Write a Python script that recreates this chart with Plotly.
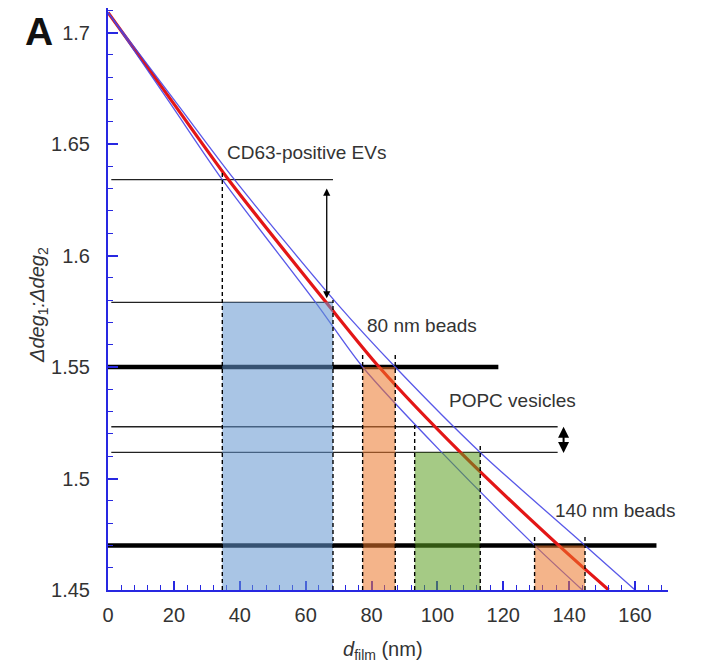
import plotly.graph_objects as go

# Ratio levels (y) shared by the calibration curve and its uncertainty band
ratio_levels = [1.709, 1.668, 1.634, 1.579, 1.550, 1.5117, 1.470, 1.450]
# Film thickness (nm) at each ratio level: best fit and lower/upper bounds
d_fit = [0.0, 20.0, 36.6, 66.2, 82.3, 107.0, 136.8, 152.0]
d_lower = [0.0, 19.0, 34.7, 63.0, 77.3, 101.3, 129.5, 144.0]
d_upper = [0.0, 21.0, 38.4, 69.2, 87.2, 113.0, 144.8, 160.0]

# Measured samples: ratio interval, thickness interval, label
samples = ["CD63-positive EVs", "80 nm beads", "POPC vesicles", "140 nm beads"]
ratio_lo = [1.579, 1.550, 1.5117, 1.470]
ratio_hi = [1.634, 1.550, 1.5232, 1.470]
d_lo = [34.7, 77.3, 93.1, 129.5]
d_hi = [68.3, 87.2, 113.0, 144.8]
fill_colors = ["rgba(99,150,208,0.55)", "rgba(235,119,42,0.55)",
               "rgba(91,159,33,0.55)", "rgba(235,119,42,0.55)"]

# Reference (bead) ratio lines and the extent of each
bead_ratios = [1.550, 1.470]
bead_line_end = [118.5, 166.5]

# Label anchor points
label_d = [35.5, 78.1, 102.8, 135.1]
label_ratio = [1.6462, 1.5687, 1.5351, 1.4858]

# Double arrows marking ratio spread of the vesicle samples
arrow_d = [66.4, 138.3]
arrow_lo = [1.5808, 1.5114]
arrow_hi = [1.6307, 1.5239]

AXIS_BLUE = "rgb(40,40,225)"
TEXT = "#333333"
FONT = "Arial, Liberation Sans, sans-serif"

fig = go.Figure()

fig.add_trace(go.Scatter(x=d_fit, y=ratio_levels, mode="lines",
                         line=dict(color="#e31616", width=3.2, shape="spline", smoothing=0.8),
                         hoverinfo="skip", showlegend=False))
for d in (d_lower, d_upper):
    fig.add_trace(go.Scatter(x=d, y=ratio_levels, mode="lines",
                             line=dict(color="rgba(70,70,230,0.9)", width=1.3,
                                       shape="spline", smoothing=0.8),
                             hoverinfo="skip", showlegend=False))

shapes = []
# thick reference lines
for r, xe in zip(bead_ratios, bead_line_end):
    shapes.append(dict(type="line", xref="x", yref="y", x0=0, x1=xe, y0=r, y1=r,
                       line=dict(color="black", width=4.5), layer="below"))
# thin lines for vesicle ratio intervals
vesicle_idx = [0, 2]
thin_end = [68.3, 136.5]
for i, xe in zip(vesicle_idx, thin_end):
    for r in (ratio_lo[i], ratio_hi[i]):
        shapes.append(dict(type="line", xref="x", yref="y", x0=1, x1=xe, y0=r, y1=r,
                           line=dict(color="#222222", width=1.3), layer="below"))
# shaded thickness intervals
for i in range(len(samples)):
    shapes.append(dict(type="rect", xref="x", yref="y", x0=d_lo[i], x1=d_hi[i],
                       y0=1.45, y1=ratio_lo[i], fillcolor=fill_colors[i],
                       line=dict(width=0), layer="above"))
# dashed drop lines
dash_top_lo = [ratio_hi[0] + 0.003, 1.556, ratio_hi[2] + 0.002, 1.4745]
dash_top_hi = [ratio_lo[0] + 0.001, 1.556, ratio_lo[2] + 0.003, 1.4745]
for i in range(len(samples)):
    for xv, yt in ((d_lo[i], dash_top_lo[i]), (d_hi[i], dash_top_hi[i])):
        shapes.append(dict(type="line", xref="x", yref="y", x0=xv, x1=xv, y0=1.45, y1=yt,
                           line=dict(color="black", width=1.4, dash="4px,3px"),
                           layer="above"))

annotations = []
for txt, xv, yv in zip(samples, label_d, label_ratio):
    annotations.append(dict(x=xv, y=yv, xref="x", yref="y", text=txt, showarrow=False,
                            xanchor="left", yanchor="middle",
                            font=dict(family=FONT, size=19, color=TEXT)))
for xv, lo, hi, w in zip(arrow_d, arrow_lo, arrow_hi, [1.3, 2.0]):
    annotations.append(dict(x=xv, y=lo, ax=xv, ay=hi, xref="x", yref="y",
                            axref="x", ayref="y", text="", showarrow=True,
                            arrowhead=2, startarrowhead=2, arrowside="end+start",
                            arrowsize=1.1, startarrowsize=1.1, arrowwidth=w,
                            arrowcolor="black", standoff=0, startstandoff=0))
# panel letter and axis titles
annotations.append(dict(x=0, y=1, xref="paper", yref="paper", xshift=-69, yshift=-23,
                        text="<b>A</b>", showarrow=False, xanchor="center", yanchor="middle",
                        font=dict(family=FONT, size=39, color="#111111")))
annotations.append(dict(x=0, y=0.5, xref="paper", yref="paper", xshift=-70, yshift=-6,
                        text="<i>Δdeg</i><sub>1</sub><i>:Δdeg</i><sub>2</sub>",
                        textangle=-90, showarrow=False, xanchor="center", yanchor="middle",
                        font=dict(family=FONT, size=20, color=TEXT)))
annotations.append(dict(x=0.5, y=0, xref="paper", yref="paper", xshift=-5, yshift=-60,
                        text="<i>d</i><sub>film</sub> (nm)", showarrow=False,
                        xanchor="center", yanchor="middle",
                        font=dict(family=FONT, size=20, color=TEXT)))

fig.update_layout(
    width=707, height=667,
    margin=dict(l=108, r=39, t=8, b=77),
    paper_bgcolor="white", plot_bgcolor="white",
    shapes=shapes, annotations=annotations,
    font=dict(family=FONT, size=20, color=TEXT),
)
fig.update_xaxes(range=[0, 170], tickmode="linear", tick0=0, dtick=20,
                 ticks="inside", ticklen=9, tickwidth=1.5, tickcolor=AXIS_BLUE,
                 minor=dict(dtick=4, tick0=0, ticks="inside", ticklen=5,
                            tickwidth=1.3, tickcolor=AXIS_BLUE),
                 showline=True, linecolor=AXIS_BLUE, linewidth=2,
                 showgrid=False, zeroline=False, ticklabelstandoff=6,
                 tickfont=dict(family=FONT, size=20, color=TEXT))
fig.update_yaxes(range=[1.45, 1.711], tickmode="array",
                 tickvals=[1.45, 1.5, 1.55, 1.6, 1.65, 1.7],
                 ticktext=["1.45", "1.5", "1.55", "1.6", "1.65", "1.7"],
                 ticks="inside", ticklen=10, tickwidth=1.5, tickcolor=AXIS_BLUE,
                 minor=dict(dtick=0.01, tick0=1.45, ticks="inside", ticklen=5,
                            tickwidth=1.3, tickcolor=AXIS_BLUE),
                 showline=True, linecolor=AXIS_BLUE, linewidth=2,
                 showgrid=False, zeroline=False, ticklabelstandoff=12,
                 tickfont=dict(family=FONT, size=20, color=TEXT))

fig.write_html("out.html")
